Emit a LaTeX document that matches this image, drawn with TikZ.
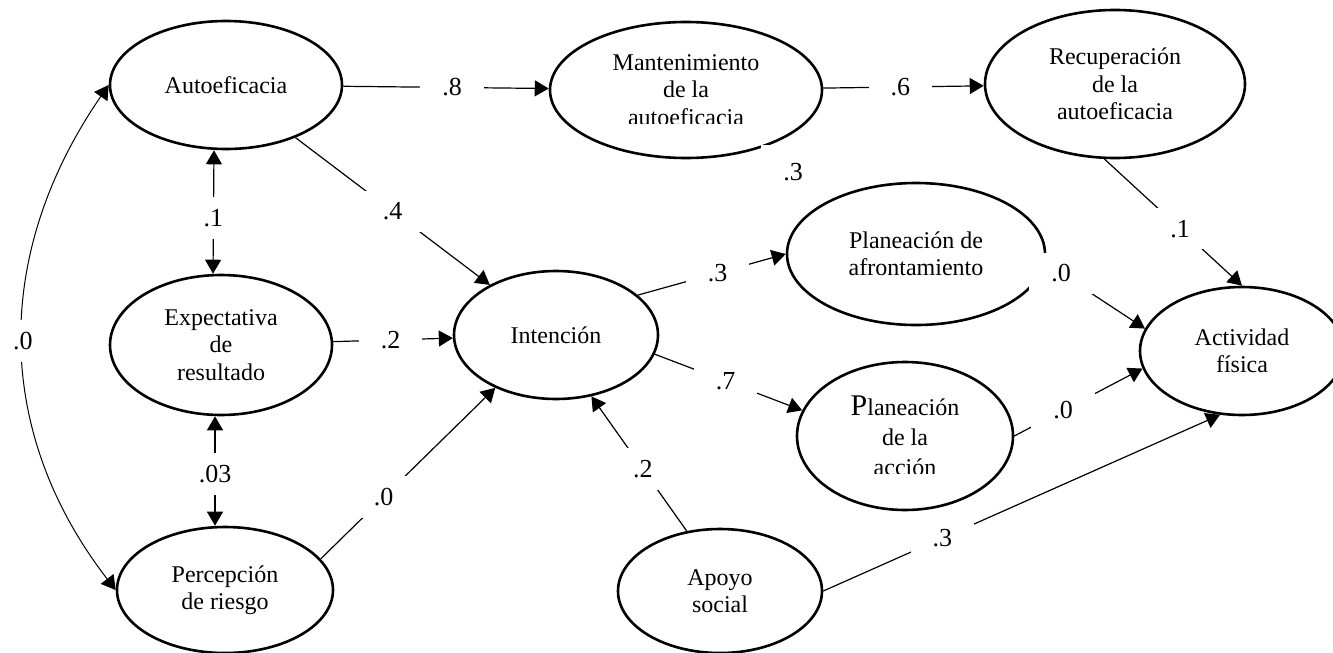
\documentclass[tikz,border=0pt]{standalone}
\usepackage{fontspec}
\setmainfont{Liberation Serif}
\usetikzlibrary{arrows.meta,shapes.geometric}

\begin{document}
\begin{tikzpicture}[x=0.5pt, y=-0.5pt, font=\fontsize{12}{13.75}\selectfont,
  latent/.style={ellipse, draw, line width=1.3pt, inner sep=0pt, align=center},
  causal/.style={line width=0.6pt, -{Triangle[length=7pt,width=8pt]}},
  recip/.style={line width=0.6pt, {Triangle[length=7pt,width=8pt]}-{Triangle[length=7pt,width=8pt]}},
  coef/.style={fill=white, inner xsep=11pt, inner ysep=6pt, font=\fontsize{13}{13}\selectfont}]
\useasboundingbox (0,0) rectangle (1333,653);
% variables del modelo
\node[latent, minimum width=116pt, minimum height=64pt] (auto) at (226,85) {Autoeficacia};
\node[latent, minimum width=111pt, minimum height=70pt] (expect) at (221,345) {Expectativa\\de\\resultado};
\node[latent, minimum width=108pt, minimum height=63pt] (percep) at (225,590) {Percepción\\de riesgo};
\node[latent, minimum width=102pt, minimum height=64pt] (int) at (556,335) {Intención};
\node[latent, minimum width=136pt, minimum height=68pt] (mant) at (686,90) {Mantenimiento\\de la\\autoeficacia};
\node[latent, minimum width=130pt, minimum height=74pt] (recup) at (1115,84) {Recuperación\\de la\\autoeficacia};
\node[latent, minimum width=129pt, minimum height=71pt] (pafr) at (916,254) {Planeación de\\afrontamiento};
\node[latent, minimum width=108pt, minimum height=74pt, font=\fontsize{12}{15}\selectfont] (pact) at (905,436) {{\fontsize{15}{15}\selectfont P}laneación\\de la\\acción};
\node[latent, minimum width=102pt, minimum height=64pt] (act) at (1242,351) {Actividad\\física};
\node[latent, minimum width=102pt, minimum height=62pt] (apoyo) at (720,591) {Apoyo\\social};
% texto cortado
\fill[white] ([shift={(-34pt,-17.1pt)}]mant.center) rectangle ([shift={(34pt,-24pt)}]mant.center);
\fill[white] ([shift={(-20pt,-19.2pt)}]pact.center) rectangle ([shift={(20pt,-26pt)}]pact.center);
% trayectorias
\draw[causal] (auto) -- node[coef, pos=0.53] {.8} (mant);
\draw[causal] (mant) -- node[coef, pos=0.48] {.6} (recup);
\draw[causal] (auto) -- node[coef, pos=0.5] {.4} (int);
\draw[recip] ([xshift=-6pt]auto.south) -- node[coef, pos=0.55] {.1} ([xshift=-4pt]expect.north);
\draw[causal] (expect) -- node[coef, pos=0.48] {.2} (int);
\draw[recip] ([xshift=-3pt]expect.south) -- node[coef, pos=0.53] {.03} ([xshift=-5pt]percep.north);
\draw[causal] (percep.18) -- node[coef, pos=0.36] {.0} (int.221);
\draw[recip, line width=0.5pt] (auto.west) .. controls (-7,253) and (-7,431) .. node[coef, pos=0.5] {.0} (percep.west);
\node[coef, inner ysep=9pt] (c3) at (793,172) {.3};
\draw[causal] (recup.262) -- node[coef, pos=0.55] {.1} (act.north);
\draw[causal] (int.26) -- node[coef, pos=0.54] {.3} (pafr.west);
\draw[causal] (int.-11) -- node[coef, pos=0.48] {.7} (pact.166);
\draw[causal] (pafr.-4) -- node[coef, pos=0.16] {.0} (act.167);
\draw[causal] (pact.east) -- node[coef, pos=0.38] {.0} (act.190);
\draw[causal] (apoyo.119) -- node[coef, pos=0.46] {.2} (int.-60);
\draw[causal] (apoyo.east) -- node[coef, pos=0.30] {.3} (act.251);
\end{tikzpicture}
\end{document}
